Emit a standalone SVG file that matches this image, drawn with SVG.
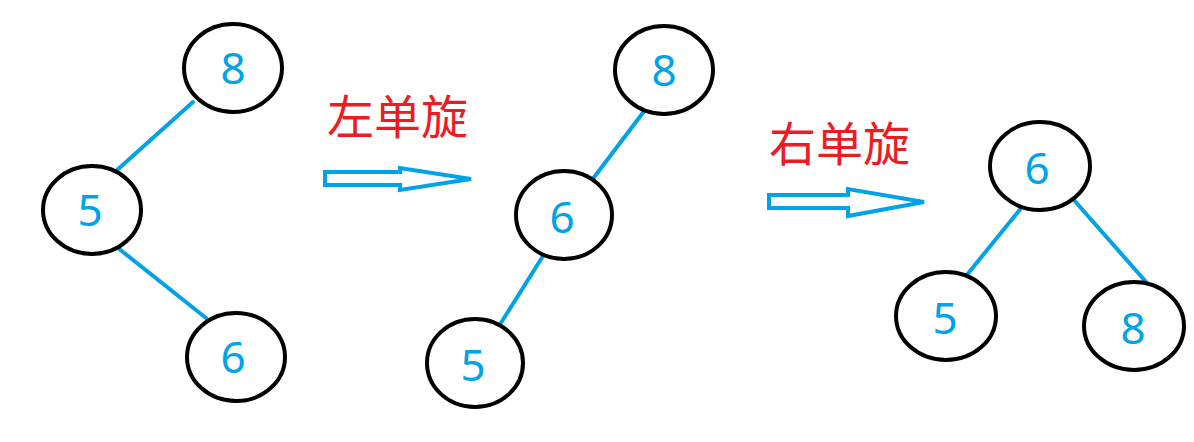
<svg xmlns="http://www.w3.org/2000/svg" width="1194" height="442" viewBox="0 0 1194 442">
<style>
.n{fill:#fff;stroke:#000;stroke-width:4}
.t{font-family:"Noto Sans","Open Sans",sans-serif;font-size:44px;fill:#00A2E8;text-anchor:middle}
.e{stroke:#00A2E8;stroke-width:4;stroke-linecap:round;fill:none}
.lbl{font-family:"Noto Sans CJK SC",sans-serif;font-size:47px;fill:#ED1C24}
.ar{fill:#fff;stroke:#00A2E8;stroke-width:4;stroke-linejoin:miter}
</style>
<rect width="1194" height="442" fill="#fff"/>
<g id="connectors">
<line class="e" x1="193" y1="102" x2="116" y2="171"/>
<line class="e" x1="118" y1="248" x2="206" y2="318"/>
<line class="e" x1="645" y1="110" x2="592" y2="180"/>
<line class="e" x1="543" y1="256" x2="499" y2="326"/>
<line class="e" x1="1022" y1="207" x2="966" y2="276"/>
<line class="e" x1="1073" y1="199" x2="1147" y2="283"/>
</g>
<g id="l8"><ellipse class="n" cx="233" cy="68" rx="49" ry="44"/><text class="t" x="233" y="84">8</text></g>
<g id="l5"><ellipse class="n" cx="92" cy="210" rx="49" ry="44"/><text class="t" x="90" y="226">5</text></g>
<g id="l6"><ellipse class="n" cx="236" cy="357" rx="49" ry="44"/><text class="t" x="233" y="373">6</text></g>
<g id="m8"><ellipse class="n" cx="664" cy="70" rx="49" ry="44"/><text class="t" x="664" y="86">8</text></g>
<g id="m6"><ellipse class="n" cx="564" cy="215" rx="48" ry="44"/><text class="t" x="562" y="233">6</text></g>
<g id="m5"><ellipse class="n" cx="475" cy="363" rx="48" ry="44"/><text class="t" x="473" y="381">5</text></g>
<g id="r6"><ellipse class="n" cx="1040" cy="166" rx="50" ry="44"/><text class="t" x="1037" y="184">6</text></g>
<g id="r5"><ellipse class="n" cx="946" cy="316" rx="50" ry="44"/><text class="t" x="945" y="334">5</text></g>
<g id="r8"><ellipse class="n" cx="1134" cy="326" rx="50" ry="44"/><text class="t" x="1133" y="344">8</text></g>
<g id="arrow1">
<polygon class="ar" points="325,172 400,172 400,168 471,179 400,190 400,185 325,185"/>
<text class="lbl" x="327" y="134">左单旋</text>
</g>
<g id="arrow2">
<polygon class="ar" points="769,195 848,195 848,189 924,202 848,216 848,208 769,208"/>
<text class="lbl" x="769" y="161">右单旋</text>
</g>
</svg>
